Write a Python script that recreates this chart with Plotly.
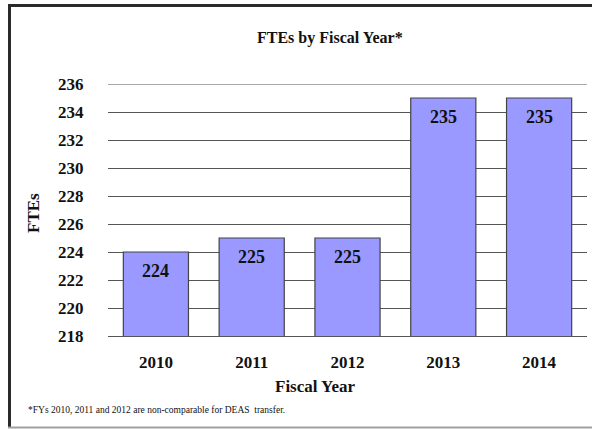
import plotly.graph_objects as go

# FTE counts by fiscal year
years = ["2010", "2011", "2012", "2013", "2014"]
ftes = [224, 225, 225, 235, 235]
y_ticks = [218, 220, 222, 224, 226, 228, 230, 232, 234, 236]

W, H = 592, 429
ML, MR, MT, MB = 108, 5, 84, 93
PW, PH = W - ML - MR, H - MT - MB

SERIF = "Liberation Serif, Times New Roman, serif"


def px_x(x):
    return (x - ML) / PW


def px_y(y):
    return (H - MB - y) / PH


fig = go.Figure(
    go.Bar(
        x=years,
        y=ftes,
        marker=dict(color="#9999FF", line=dict(color="#444444", width=1.2)),
        hoverinfo="x+y",
    )
)

# value labels near the top of each bar (category index positions)
for i, v in enumerate(ftes):
    fig.add_annotation(
        x=i, y=v, xref="x", yref="y", text=f"<b>{v}</b>", showarrow=False,
        yanchor="top", yshift=-7,
        font=dict(family=SERIF, size=18, color="#111111"),
    )

# top gridline at the upper end of the value axis
fig.add_shape(type="line", xref="paper", yref="y",
              x0=0, x1=1, y0=max(y_ticks), y1=max(y_ticks),
              line=dict(color="#555555", width=1), layer="below")

# chart title, axis titles, footnote
fig.add_annotation(
    x=px_x(330), y=px_y(38), xref="paper", yref="paper",
    text="<b>FTEs by Fiscal Year*</b>", showarrow=False,
    xanchor="center", yanchor="middle",
    font=dict(family=SERIF, size=16, color="#111111"),
)
fig.add_annotation(
    x=px_x(315), y=px_y(386), xref="paper", yref="paper",
    text="<b>Fiscal Year</b>", showarrow=False,
    xanchor="center", yanchor="middle",
    font=dict(family=SERIF, size=17, color="#111111"),
)
fig.add_annotation(
    x=px_x(33), y=px_y(213), xref="paper", yref="paper",
    text="<b>FTEs</b>", showarrow=False, textangle=-90,
    xanchor="center", yanchor="middle",
    font=dict(family=SERIF, size=17, color="#111111"),
)
fig.add_annotation(
    x=px_x(26), y=px_y(410), xref="paper", yref="paper",
    text="*FYs 2010, 2011 and 2012 are non-comparable for DEAS  transfer.",
    showarrow=False, xanchor="left", yanchor="middle",
    font=dict(family=SERIF, size=9.5, color="#111111"),
)

# outer frame
fig.add_shape(type="line", xref="paper", yref="paper",
              x0=px_x(9.5), x1=px_x(9.5), y0=px_y(5), y1=px_y(428),
              line=dict(color="#2a2a2a", width=3))
fig.add_shape(type="line", xref="paper", yref="paper",
              x0=px_x(8), x1=px_x(600), y0=px_y(5.5), y1=px_y(5.5),
              line=dict(color="#2a2a2a", width=3))
fig.add_shape(type="line", xref="paper", yref="paper",
              x0=px_x(8), x1=px_x(600), y0=px_y(427.5), y1=px_y(427.5),
              line=dict(color="#a0a0a0", width=2))

fig.update_layout(
    width=W, height=H, autosize=False,
    margin=dict(l=ML, r=MR, t=MT, b=MB, pad=0),
    paper_bgcolor="white", plot_bgcolor="white",
    bargap=0.32, showlegend=False,
    font=dict(family=SERIF, color="#111111"),
    xaxis=dict(
        type="category", range=[-0.5, len(years) - 0.5],
        categoryorder="array", categoryarray=years,
        tickvals=years, ticktext=[f"<b>{y}</b>" for y in years],
        showgrid=False, showline=True, linecolor="#555555", linewidth=1,
        ticks="outside", ticklen=11, tickcolor="rgba(255,255,255,0)",
        tickfont=dict(family=SERIF, size=17, color="#111111"),
    ),
    yaxis=dict(
        range=[218, 236], tickvals=y_ticks,
        ticktext=[f"<b>{t}</b>" for t in y_ticks],
        showgrid=True, gridcolor="#555555", gridwidth=1,
        zeroline=False, showline=False,
        ticks="outside", ticklen=20, tickcolor="rgba(255,255,255,0)",
        tickfont=dict(family=SERIF, size=17, color="#111111"),
    ),
)

fig.write_html("out.html")
